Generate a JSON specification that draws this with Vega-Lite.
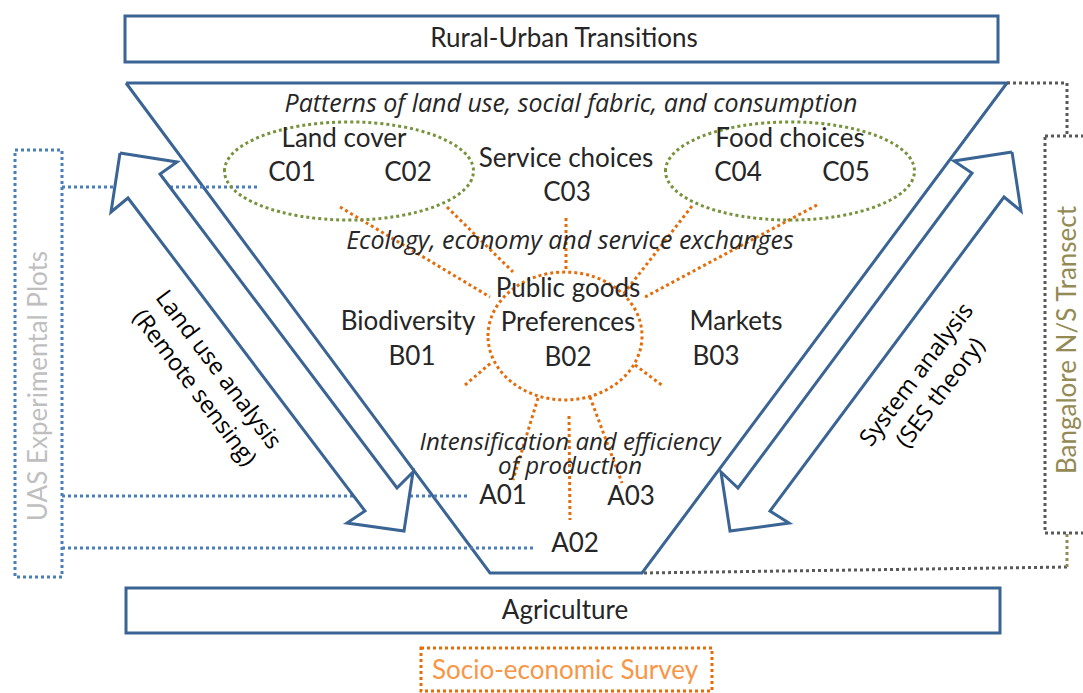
{
  "$schema": "https://vega.github.io/schema/vega-lite/v6.json",
  "width": 1083,
  "height": 693,
  "autosize": {"type": "fit", "contains": "padding"},
  "padding": 0,
  "background": "white",
  "config": {"view": {"stroke": null}},
  "datasets": {
    "boxes": [
      {"name": "Rural-Urban Transitions", "x": 125, "x2": 998, "y": 16, "y2": 62},
      {"name": "Agriculture", "x": 126, "x2": 1000, "y": 588, "y2": 633}
    ],
    "dottedBoxes": [
      {"group": "uas", "x": 15, "x2": 62, "y": 150, "y2": 577},
      {"group": "transect", "x": 1045, "x2": 1100, "y": 136, "y2": 533},
      {"group": "survey", "x": 421, "x2": 712, "y": 648, "y2": 691}
    ],
    "solidLines": [
      {"id": "trap", "i": 0, "x": 126, "y": 83},
      {"id": "trap", "i": 1, "x": 1007, "y": 83},
      {"id": "trap", "i": 2, "x": 642, "y": 573},
      {"id": "trap", "i": 3, "x": 490, "y": 573},
      {"id": "trap", "i": 4, "x": 126, "y": 83},
      {"id": "arrowL", "i": 0, "x": 120, "y": 153},
      {"id": "arrowL", "i": 1, "x": 177, "y": 162},
      {"id": "arrowL", "i": 2, "x": 160, "y": 174},
      {"id": "arrowL", "i": 3, "x": 397, "y": 488},
      {"id": "arrowL", "i": 4, "x": 413, "y": 472},
      {"id": "arrowL", "i": 5, "x": 404, "y": 531},
      {"id": "arrowL", "i": 6, "x": 347, "y": 523},
      {"id": "arrowL", "i": 7, "x": 365, "y": 511},
      {"id": "arrowL", "i": 8, "x": 128, "y": 198},
      {"id": "arrowL", "i": 9, "x": 111, "y": 212},
      {"id": "arrowL", "i": 10, "x": 120, "y": 153},
      {"id": "arrowR", "i": 0, "x": 1012, "y": 152},
      {"id": "arrowR", "i": 1, "x": 1021, "y": 211},
      {"id": "arrowR", "i": 2, "x": 1004, "y": 197},
      {"id": "arrowR", "i": 3, "x": 770, "y": 511},
      {"id": "arrowR", "i": 4, "x": 789, "y": 523},
      {"id": "arrowR", "i": 5, "x": 730, "y": 531},
      {"id": "arrowR", "i": 6, "x": 721, "y": 472},
      {"id": "arrowR", "i": 7, "x": 738, "y": 488},
      {"id": "arrowR", "i": 8, "x": 972, "y": 173},
      {"id": "arrowR", "i": 9, "x": 954, "y": 161},
      {"id": "arrowR", "i": 10, "x": 1012, "y": 152}
    ],
    "dottedLines": [
      {"id": "u1", "group": "uas", "i": 0, "x": 62, "y": 187},
      {"id": "u1", "group": "uas", "i": 1, "x": 257, "y": 187},
      {"id": "u2", "group": "uas", "i": 0, "x": 62, "y": 496},
      {"id": "u2", "group": "uas", "i": 1, "x": 468, "y": 496},
      {"id": "u3", "group": "uas", "i": 0, "x": 62, "y": 548},
      {"id": "u3", "group": "uas", "i": 1, "x": 535, "y": 548},
      {"id": "g1", "group": "transect", "i": 0, "x": 1007, "y": 83},
      {"id": "g1", "group": "transect", "i": 1, "x": 1067, "y": 83},
      {"id": "g1", "group": "transect", "i": 2, "x": 1067, "y": 136},
      {"id": "g2", "group": "transect", "i": 0, "x": 1067, "y": 567},
      {"id": "g2", "group": "transect", "i": 1, "x": 643, "y": 573},
      {"id": "o1", "group": "olive", "i": 0, "x": 1067, "y": 534},
      {"id": "o1", "group": "olive", "i": 1, "x": 1067, "y": 567},
      {"id": "r1", "group": "survey", "i": 0, "x": 340, "y": 207},
      {"id": "r1", "group": "survey", "i": 1, "x": 490, "y": 297},
      {"id": "r2", "group": "survey", "i": 0, "x": 447, "y": 207},
      {"id": "r2", "group": "survey", "i": 1, "x": 513, "y": 272},
      {"id": "r3", "group": "survey", "i": 0, "x": 566, "y": 218},
      {"id": "r3", "group": "survey", "i": 1, "x": 566, "y": 270},
      {"id": "r4", "group": "survey", "i": 0, "x": 692, "y": 206},
      {"id": "r4", "group": "survey", "i": 1, "x": 622, "y": 296},
      {"id": "r5", "group": "survey", "i": 0, "x": 817, "y": 205},
      {"id": "r5", "group": "survey", "i": 1, "x": 645, "y": 297},
      {"id": "r6", "group": "survey", "i": 0, "x": 465, "y": 385},
      {"id": "r6", "group": "survey", "i": 1, "x": 492, "y": 362},
      {"id": "r7", "group": "survey", "i": 0, "x": 635, "y": 365},
      {"id": "r7", "group": "survey", "i": 1, "x": 663, "y": 386},
      {"id": "r8", "group": "survey", "i": 0, "x": 538, "y": 398},
      {"id": "r8", "group": "survey", "i": 1, "x": 513, "y": 480},
      {"id": "r9", "group": "survey", "i": 0, "x": 569, "y": 416},
      {"id": "r9", "group": "survey", "i": 1, "x": 570, "y": 520},
      {"id": "r10", "group": "survey", "i": 0, "x": 590, "y": 397},
      {"id": "r10", "group": "survey", "i": 1, "x": 622, "y": 483}
    ],
    "ellipses": [
      {"name": "Land cover", "x": 349, "y": 171},
      {"name": "Food choices", "x": 790, "y": 171}
    ],
    "hub": [
      {"name": "Public goods", "x": 565, "y": 336}
    ],
    "labels": [
      {"t": "Rural-Urban Transitions", "x": 564, "y": 39},
      {"t": "Agriculture", "x": 565, "y": 611},
      {"t": "Land cover", "x": 344, "y": 139},
      {"t": "C01", "x": 292, "y": 173},
      {"t": "C02", "x": 408, "y": 173},
      {"t": "Service choices", "x": 566, "y": 159},
      {"t": "C03", "x": 567, "y": 193},
      {"t": "Food choices", "x": 790, "y": 139},
      {"t": "C04", "x": 738, "y": 173},
      {"t": "C05", "x": 846, "y": 173},
      {"t": "Public goods", "x": 568, "y": 289},
      {"t": "Preferences", "x": 568, "y": 323},
      {"t": "B02", "x": 568, "y": 358},
      {"t": "Biodiversity", "x": 408, "y": 322},
      {"t": "B01", "x": 412, "y": 357},
      {"t": "Markets", "x": 736, "y": 322},
      {"t": "B03", "x": 716, "y": 357},
      {"t": "A01", "x": 503, "y": 496},
      {"t": "A03", "x": 631, "y": 497},
      {"t": "A02", "x": 575, "y": 544}
    ],
    "italics": [
      {"t": "Patterns of land use, social fabric, and consumption", "x": 571, "y": 104},
      {"t": "Ecology, economy and service exchanges", "x": 570, "y": 241}
    ],
    "italicBlock": [
      {"t": "Intensification and efficiency\nof production", "x": 570, "y": 443}
    ],
    "methodL": [{"t": "Land use analysis\n(Remote sensing)", "x": 218, "y": 370}],
    "methodR": [{"t": "System analysis\n(SES theory)", "x": 917, "y": 375}],
    "sideLabels": [
      {"t": "UAS Experimental Plots", "group": "uas", "x": 39, "y": 386},
      {"t": "Bangalore N/S Transect", "group": "transect", "x": 1068, "y": 340}
    ],
    "survey": [{"t": "Socio-economic Survey", "x": 565, "y": 671}]
  },
  "encoding": {
    "x": {"field": "x", "type": "quantitative", "scale": {"domain": [0, 1083], "nice": false, "zero": false}, "axis": null},
    "y": {"field": "y", "type": "quantitative", "scale": {"domain": [0, 693], "nice": false, "zero": false, "reverse": true}, "axis": null}
  },
  "layer": [
    {
      "data": {"name": "boxes"},
      "mark": {"type": "rect", "fill": "white", "stroke": "#3a6494", "strokeWidth": 3},
      "encoding": {"x2": {"field": "x2"}, "y2": {"field": "y2"}}
    },
    {
      "data": {"name": "dottedBoxes"},
      "mark": {"type": "rect", "filled": false, "strokeWidth": 3, "strokeDash": [3, 3], "clip": true},
      "encoding": {
        "x2": {"field": "x2"}, "y2": {"field": "y2"},
        "stroke": {"field": "group", "type": "nominal", "scale": {"domain": ["uas", "transect", "survey", "olive"], "range": ["#4a7ebb", "#595959", "#e46c0a", "#948a54"]}, "legend": null}
      }
    },
    {
      "data": {"name": "solidLines"},
      "transform": [{"filter": "datum.id === 'trap'"}],
      "mark": {"type": "line", "stroke": "#3a6494", "strokeWidth": 3, "strokeJoin": "miter"},
      "encoding": {"order": {"field": "i", "type": "quantitative"}, "detail": {"field": "id"}}
    },
    {
      "data": {"name": "dottedLines"},
      "mark": {"type": "line", "strokeWidth": 3, "strokeDash": [3, 3]},
      "encoding": {
        "order": {"field": "i", "type": "quantitative"},
        "detail": {"field": "id"},
        "stroke": {"field": "group", "type": "nominal", "scale": {"domain": ["uas", "transect", "survey", "olive"], "range": ["#4a7ebb", "#595959", "#e46c0a", "#948a54"]}, "legend": null}
      }
    },
    {
      "data": {"name": "ellipses"},
      "mark": {"type": "point", "shape": "M-1,0A1,0.394 0 1,1 1,0A1,0.394 0 1,1 -1,0Z", "size": 62000, "filled": false, "stroke": "#77933c", "strokeWidth": 3, "strokeDash": [3, 3], "opacity": 1}
    },
    {
      "data": {"name": "hub"},
      "mark": {"type": "point", "shape": "M-1,0A1,0.83 0 1,1 1,0A1,0.83 0 1,1 -1,0Z", "size": 23716, "filled": false, "stroke": "#e46c0a", "strokeWidth": 3, "strokeDash": [3, 3], "opacity": 1}
    },
    {
      "data": {"name": "solidLines"},
      "transform": [{"filter": "datum.id !== 'trap'"}],
      "mark": {"type": "line", "stroke": "#3a6494", "fill": "white", "strokeWidth": 3, "strokeJoin": "miter"},
      "encoding": {"order": {"field": "i", "type": "quantitative"}, "detail": {"field": "id"}}
    },
    {
      "data": {"name": "labels"},
      "mark": {"type": "text", "font": "Lato", "fontSize": 26, "fill": "#262626", "align": "center", "baseline": "middle"},
      "encoding": {"text": {"field": "t"}}
    },
    {
      "data": {"name": "italics"},
      "mark": {"type": "text", "font": "Open Sans", "fontSize": 25, "fontStyle": "italic", "fill": "#262626", "align": "center", "baseline": "middle"},
      "encoding": {"text": {"field": "t"}}
    },
    {
      "data": {"name": "italicBlock"},
      "mark": {"type": "text", "font": "Open Sans", "fontSize": 24, "fontStyle": "italic", "fill": "#262626", "align": "center", "baseline": "middle", "lineBreak": "\n", "lineHeight": 24},
      "encoding": {"text": {"field": "t"}}
    },
    {
      "data": {"name": "methodL"},
      "mark": {"type": "text", "font": "Open Sans", "fontSize": 23.5, "fill": "black", "align": "center", "baseline": "middle", "angle": 53, "lineBreak": "\n", "lineHeight": 30},
      "encoding": {"text": {"field": "t"}}
    },
    {
      "data": {"name": "methodR"},
      "mark": {"type": "text", "font": "Open Sans", "fontSize": 23.5, "fill": "black", "align": "center", "baseline": "middle", "angle": -53, "lineBreak": "\n", "lineHeight": 30},
      "encoding": {"text": {"field": "t"}}
    },
    {
      "data": {"name": "sideLabels"},
      "mark": {"type": "text", "font": "Lato", "fontSize": 26, "align": "center", "baseline": "middle", "angle": -90},
      "encoding": {
        "text": {"field": "t"},
        "fill": {"field": "group", "type": "nominal", "scale": {"domain": ["uas", "transect"], "range": ["#bfbfbf", "#948a54"]}, "legend": null}
      }
    },
    {
      "data": {"name": "survey"},
      "mark": {"type": "text", "font": "Lato", "fontSize": 26, "fill": "#f79646", "align": "center", "baseline": "middle"},
      "encoding": {"text": {"field": "t"}}
    }
  ]
}
